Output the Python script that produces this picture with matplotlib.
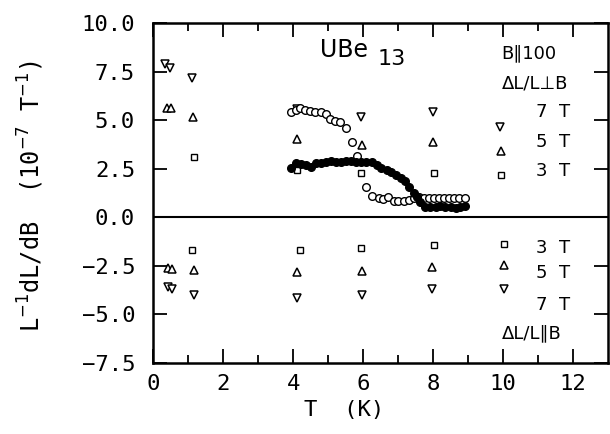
import matplotlib
matplotlib.use("Agg")
import matplotlib.pyplot as plt
import numpy as np

# ---- data: perpendicular (dL/L ⊥ B), field sweeps at fixed T ----
perp7_T = [0.35, 0.48, 1.12, 4.10, 5.95, 7.99, 9.91]
perp7_v = [7.9, 7.7, 7.15, 5.55, 5.15, 5.4, 4.63]
perp5_T = [0.40, 0.52, 1.15, 4.10, 5.98, 7.99, 9.93]
perp5_v = [5.6, 5.6, 5.15, 4.05, 3.7, 3.9, 3.4]
perp3_T = [1.17, 4.10, 5.95, 8.02, 9.93]
perp3_v = [3.1, 2.45, 2.26, 2.3, 2.16]

# ---- data: parallel (dL/L ∥ B) ----
par3_T = [1.12, 4.19, 5.95, 8.02, 10.03]
par3_v = [-1.66, -1.7, -1.6, -1.44, -1.39]
par5_T = [0.42, 0.55, 1.17, 4.10, 5.98, 7.96, 10.03]
par5_v = [-2.6, -2.68, -2.73, -2.8, -2.76, -2.56, -2.47]
par7_T = [0.42, 0.55, 1.17, 4.10, 5.98, 7.96, 10.03]
par7_v = [-3.6, -3.7, -4.0, -4.17, -4.01, -3.67, -3.67]

# ---- temperature sweeps (perpendicular) ----
open_T = [3.93, 4.08, 4.19, 4.33, 4.49, 4.63, 4.79, 4.93, 5.06, 5.20, 5.34,
          5.52, 5.69, 5.83, 6.09, 6.26, 6.44, 6.58, 6.72, 6.87, 7.01, 7.16,
          7.30, 7.44, 7.59, 7.73, 7.87, 8.02, 8.16, 8.30, 8.45, 8.59, 8.74, 8.90]
open_v = [5.42, 5.50, 5.60, 5.54, 5.45, 5.40, 5.40, 5.30, 5.04, 4.96, 4.91,
          4.60, 3.86, 3.14, 1.56, 1.10, 0.98, 0.93, 1.04, 0.84, 0.84, 0.84,
          0.87, 0.98, 1.03, 0.98, 0.98, 0.98, 0.98, 0.98, 0.98, 0.98, 0.98, 0.99]
fill_T = [3.93, 4.08, 4.22, 4.37, 4.51, 4.66, 4.80, 4.94, 5.09, 5.23, 5.37,
          5.52, 5.66, 5.80, 5.95, 6.09, 6.26, 6.41, 6.52, 6.67, 6.81, 6.95,
          7.09, 7.20, 7.32, 7.44, 7.53, 7.63, 7.78, 7.92, 8.07, 8.21, 8.35,
          8.50, 8.64, 8.78, 8.90]
fill_v = [2.56, 2.78, 2.73, 2.68, 2.59, 2.81, 2.80, 2.85, 2.88, 2.85, 2.85,
          2.88, 2.88, 2.85, 2.85, 2.85, 2.85, 2.68, 2.52, 2.42, 2.33, 2.16,
          2.00, 1.85, 1.56, 1.23, 1.03, 0.79, 0.53, 0.53, 0.53, 0.56, 0.53,
          0.53, 0.48, 0.53, 0.56]

xticks = [0, 2, 4, 6, 8, 10, 12]
yticks = [10.0, 7.5, 5.0, 2.5, 0.0, -2.5, -5.0, -7.5]
ytick_labels = ["10.0", "7.5", "5.0", "2.5", "0.0", "\u22122.5", "\u22125.0", "\u22127.5"]

plt.rcParams['font.family'] = ['DejaVu Sans']
MONO = ['DejaVu Sans Mono', 'DejaVu Sans']
fig = plt.figure(figsize=(6.1, 4.34), dpi=100)
ax = fig.add_axes([0.251, 0.1636, 0.746, 0.7834])

ms = 5.5
ax.plot(perp7_T, perp7_v, 'v', ms=ms, mfc='white', mec='black', mew=1.1, ls='none')
ax.plot(perp5_T, perp5_v, '^', ms=ms, mfc='white', mec='black', mew=1.1, ls='none')
ax.plot(perp3_T, perp3_v, 's', ms=4, mfc='white', mec='black', mew=1.0, ls='none')
ax.plot(par7_T, par7_v, 'v', ms=ms, mfc='white', mec='black', mew=1.1, ls='none')
ax.plot(par5_T, par5_v, '^', ms=ms, mfc='white', mec='black', mew=1.1, ls='none')
ax.plot(par3_T, par3_v, 's', ms=4, mfc='white', mec='black', mew=1.0, ls='none')
ax.plot(open_T, open_v, 'o', ms=5.5, mfc='white', mec='black', mew=1.0, ls='none')
ax.plot(fill_T, fill_v, 'o', ms=5.5, mfc='black', mec='black', mew=1.0, ls='none')

ax.axhline(0, color='black', lw=1.5)

ax.set_xlim(0, 13)
ax.set_ylim(-7.5, 10.0)
ax.set_xticks(xticks)
ax.set_xticks(range(1, 13, 2), minor=True)
ax.set_yticks(yticks)
ax.set_yticklabels(ytick_labels)
ax.tick_params(which='both', direction='in', top=True, right=True,
               labelsize=16, width=1.3)
ax.tick_params(axis='y', pad=13)
ax.tick_params(axis='x', pad=8)
ax.tick_params(which='major', length=10)
ax.tick_params(which='minor', length=6)
for lab in ax.get_xticklabels() + ax.get_yticklabels():
    lab.set_family(MONO)
for s in ax.spines.values():
    s.set_linewidth(1.8)

ax.set_xlabel("T  (K)", fontsize=16, family=MONO, labelpad=4)
ax.xaxis.set_label_coords(0.42, -0.11)
ax.set_ylabel("L$^{-1}$dL/dB  (10$^{-7}$ T$^{-1}$)", fontsize=17, family=MONO)
ax.yaxis.set_label_coords(-0.235, 0.49)

fs = 13
ax.text(4.77, 8.6, "UBe", fontsize=17, ha='left', va='center')
ax.text(6.4, 8.15, "13", fontsize=16, ha='left', va='center')
ax.text(9.95, 8.45, "B\u2225100", fontsize=fs, ha='left', va='center')
ax.text(9.95, 6.9, "\u0394L/L\u22a5B", fontsize=fs, ha='left', va='center')
ax.text(11.9, 5.4, "7  T", fontsize=fs, ha='right', va='center')
ax.text(11.9, 3.85, "5  T", fontsize=fs, ha='right', va='center')
ax.text(11.9, 2.4, "3  T", fontsize=fs, ha='right', va='center')
ax.text(11.9, -1.6, "3  T", fontsize=fs, ha='right', va='center')
ax.text(11.9, -2.85, "5  T", fontsize=fs, ha='right', va='center')
ax.text(11.9, -4.5, "7  T", fontsize=fs, ha='right', va='center')
ax.text(9.95, -5.95, "\u0394L/L\u2225B", fontsize=fs, ha='left', va='center')

fig.savefig("out.png", dpi=100)
